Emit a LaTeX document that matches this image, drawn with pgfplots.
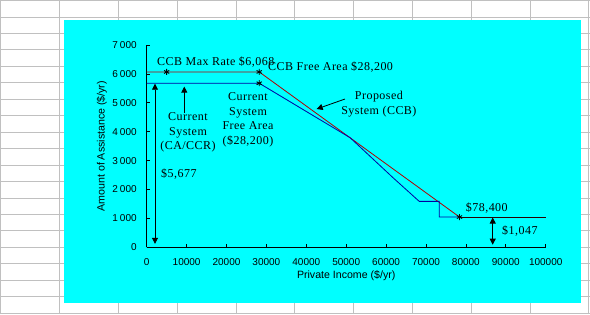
\documentclass[border=0pt]{standalone}
\usepackage{fontspec}
\setmainfont{Liberation Serif}[LetterSpace=4]
\setsansfont{Liberation Sans}
\usepackage{pgfplots}
\pgfplotsset{compat=1.18}
\usetikzlibrary{arrows.meta}
\definecolor{cy}{RGB}{0,255,255}
\definecolor{gridgrey}{RGB}{192,192,192}
\definecolor{redl}{RGB}{176,0,0}
\definecolor{bluel}{RGB}{0,0,160}
\definecolor{darkl}{RGB}{40,0,0}
\begin{document}
\begin{tikzpicture}
\useasboundingbox (0pt,0pt) rectangle (590pt,314pt);
\fill[white] (0pt,0pt) rectangle (590pt,314pt);
\foreach \c in {0.5,59.7,118.5,177.3,236.1,294.9,353.7,412.5,471.3,530.1,588.9}
  \draw[gridgrey,line width=1pt] (\c pt,0pt) -- (\c pt,314pt);
\foreach \k in {0,...,19}
  \draw[gridgrey,line width=1pt] (0pt,{(313.4-16.45*\k)*1pt}) -- (590pt,{(313.4-16.45*\k)*1pt});
\fill[cy] (64pt,11.3pt) rectangle (581pt,294pt);
\begin{axis}[
  width=399pt, height=202.3pt, scale only axis,
  at={(146.7pt,66.7pt)}, anchor=south west,
  xmin=0, xmax=100000, ymin=0, ymax=7000,
  scaled x ticks=false, scaled y ticks=false,
  axis lines=left, axis line style={-, black, line width=0.8pt},
  tick align=inside, major tick length=3pt,
  tick style={black, line width=0.8pt},
  xtick={0,10000,20000,30000,40000,50000,60000,70000,80000,90000,100000},
  xticklabels={0,10000,20000,30000,40000,50000,60000,70000,80000,90000,100000},
  ytick={0,1000,2000,3000,4000,5000,6000,7000},
  yticklabels={0,1\hspace{2pt}000,2\hspace{2pt}000,3\hspace{2pt}000,4\hspace{2pt}000,5\hspace{2pt}000,6\hspace{2pt}000,7\hspace{2pt}000},
  tick label style={font=\sffamily\fontsize{10}{12}\selectfont},
  yticklabel style={xshift=-6.5pt},
  xticklabel style={yshift=-7.5pt},
  xlabel={Private Income (\$/yr)},
  ylabel={Amount of Assistance (\$/yr)},
  label style={font=\sffamily\fontsize{10.6}{12}\selectfont},
  xlabel style={at={(axis description cs:0.5,0)}, anchor=center, yshift=-28.7pt},
  ylabel style={at={(axis description cs:-0.1128,0.5)}, anchor=center},
  clip=false,
]
\addplot[redl, line width=0.8pt] coordinates {(0,6068) (28200,6068) (78400,1047)};
\addplot[bluel, line width=0.8pt] coordinates {(0,5677) (28200,5677) (40000,4700) (51000,3790) (61800,2400) (68300,1590) (73300,1590) (73300,1047) (78400,1047)};
\addplot[darkl, line width=0.8pt] coordinates {(78400,1047) (100000,1047)};
\addplot[only marks, mark=asterisk, mark size=3pt, black, line width=0.9pt] coordinates {(5000,6068) (28200,6068) (28200,5677) (78400,1047)};
% arrows
\addplot[black, line width=0.8pt, {Triangle[width=6pt,length=6pt]}-{Triangle[width=6pt,length=6pt]}] coordinates {(2080,120) (2080,5660)};
\addplot[black, line width=0.8pt, -{Triangle[width=6pt,length=6pt]}] coordinates {(9420,4640) (9420,5560)};
\addplot[black, line width=0.8pt, -{Triangle[width=6pt,length=6pt]}] coordinates {(49700,5131) (42600,4785)};
\addplot[black, line width=0.8pt, {Triangle[width=6pt,length=6pt]}-{Triangle[width=6pt,length=6pt]}] coordinates {(86720,90) (86720,1030)};
% annotations
\begin{scope}[every node/.style={font=\fontsize{12}{14.6}\selectfont, inner sep=0pt}]
\node[anchor=west] at (axis cs:2580,6410) {CCB Max Rate \$6,068};
\node[anchor=west] at (axis cs:30400,6240) {CCB Free Area \$28,200};
\node[align=center] at (axis cs:10350,3970) {Current\\System\\(CA/CCR)};
\node[align=center] at (axis cs:25390,4405) {Current\\System\\Free Area\\(\$28,200)};
\node[align=center] at (axis cs:58200,4960) {Proposed\\System (CCB)};
\node[anchor=west] at (axis cs:3580,2536) {\$5,677};
\node[anchor=west] at (axis cs:79940,1360) {\$78,400};
\node[anchor=west] at (axis cs:89040,564) {\$1,047};
\end{scope}
\end{axis}
\end{tikzpicture}
\end{document}
